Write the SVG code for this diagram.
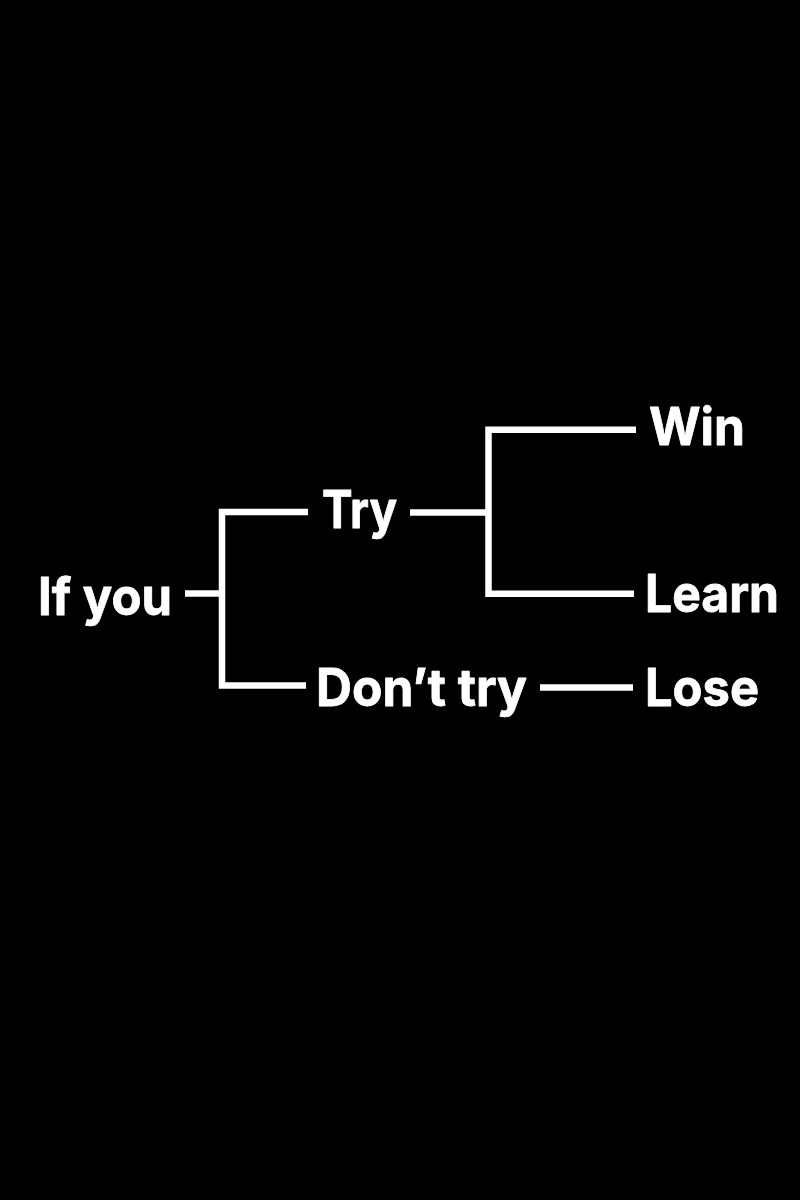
<svg xmlns="http://www.w3.org/2000/svg" width="800" height="1200" viewBox="0 0 800 1200">
<style>
text{font-family:"Inter","Lato","Liberation Sans",sans-serif;font-weight:700;font-size:52px;fill:#fff;stroke:#fff;stroke-width:.8;stroke-linejoin:round}
.c{fill:none;stroke:#fff;stroke-width:6.5;stroke-linejoin:miter}
</style>
<rect width="800" height="1200" fill="#000"/>
<g id="connectors">
<path class="c" d="M185 593.5H222"/>
<path class="c" d="M308 512H222V685.5H306"/>
<path class="c" d="M410 512.5H488.5"/>
<path class="c" d="M636 429.7H488.5V593.7H634"/>
<path class="c" d="M540 687.6H633"/>
</g>
<g id="if-you"><text x="38" y="615" textLength="134" lengthAdjust="spacingAndGlyphs">If you</text></g>
<g id="try"><text x="322" y="528" textLength="75" lengthAdjust="spacingAndGlyphs">Try</text></g>
<g id="dont-try"><text x="316" y="706" textLength="211" lengthAdjust="spacingAndGlyphs">Don’t try</text></g>
<g id="win"><text x="649" y="445" textLength="96" lengthAdjust="spacingAndGlyphs">Win</text></g>
<g id="learn"><text x="645" y="612" textLength="134" lengthAdjust="spacingAndGlyphs">Learn</text></g>
<g id="lose"><text x="645" y="706" textLength="114" lengthAdjust="spacingAndGlyphs">Lose</text></g>
</svg>
